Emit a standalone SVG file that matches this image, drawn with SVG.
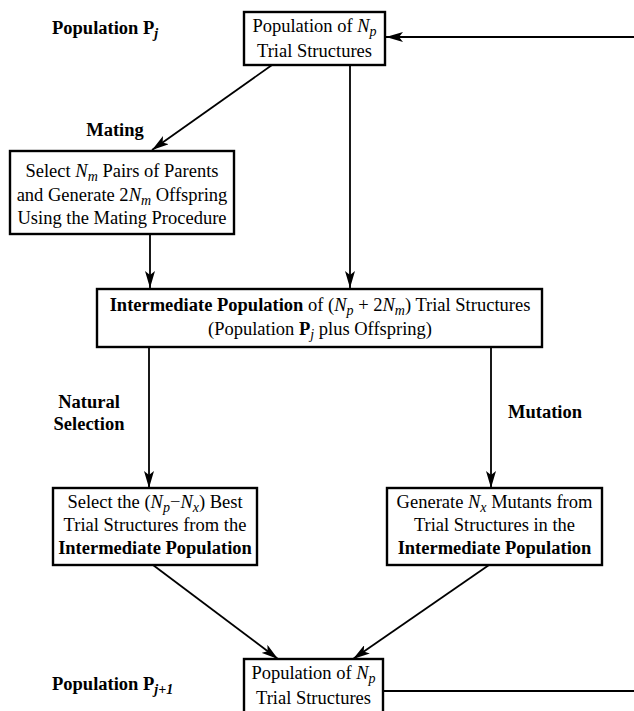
<svg xmlns="http://www.w3.org/2000/svg" width="634" height="711" viewBox="0 0 634 711">
<style>
text{font-family:"Liberation Serif","Times New Roman",serif;font-size:18.5px;fill:#000}
.c{text-anchor:middle}
.b{font-weight:bold}
.i{font-style:italic}
.box{fill:#fff;stroke:#000;stroke-width:2.4}
.ln{fill:none;stroke:#000;stroke-width:1.8}
.s{font-size:14px}
</style>
<defs>
<marker id="ah" viewBox="0 0 17 10" refX="17" refY="5" markerWidth="17" markerHeight="10" markerUnits="userSpaceOnUse" orient="auto">
<path d="M0,0 L17,5 L0,10 L4,5 z" fill="#000"/>
</marker>
</defs>
<rect width="634" height="711" fill="#fff"/>
<g id="connectors">
<line class="ln" x1="634" y1="37" x2="386" y2="37" marker-end="url(#ah)"/>
<line class="ln" x1="272" y1="65" x2="152" y2="150" marker-end="url(#ah)"/>
<line class="ln" x1="350" y1="65" x2="350" y2="288" marker-end="url(#ah)"/>
<line class="ln" x1="150" y1="234" x2="150" y2="288" marker-end="url(#ah)"/>
<line class="ln" x1="149" y1="347" x2="149" y2="488" marker-end="url(#ah)"/>
<line class="ln" x1="491" y1="347" x2="491" y2="488" marker-end="url(#ah)"/>
<line class="ln" x1="153" y1="565" x2="278" y2="659" marker-end="url(#ah)"/>
<line class="ln" x1="489" y1="565" x2="353" y2="659" marker-end="url(#ah)"/>
<line class="ln" x1="383" y1="691" x2="634" y2="691"/>
</g>
<g id="label-pj"><text class="b" x="52" y="34">Population P<tspan class="i s" dy="4">j</tspan></text></g>
<g id="label-mating"><text class="b c" x="115" y="136">Mating</text></g>
<g id="label-natural"><text class="b c" x="89" y="408">Natural</text><text class="b c" x="89" y="430">Selection</text></g>
<g id="label-mutation"><text class="b c" x="545" y="418">Mutation</text></g>
<g id="label-pj1"><text class="b" x="52" y="690">Population P<tspan class="i s" dy="4">j+1</tspan></text></g>
<g id="node-top">
<rect class="box" x="244" y="12" width="141" height="53"/>
<text class="c" x="314.5" y="32">Population of <tspan class="i">N</tspan><tspan class="i s" dy="4">p</tspan></text>
<text class="c" x="314.5" y="57">Trial Structures</text>
</g>
<g id="node-mating">
<rect class="box" x="10" y="151" width="224" height="83"/>
<text class="c" x="122" y="177">Select <tspan class="i">N</tspan><tspan class="i s" dy="4">m</tspan><tspan dy="-4"> Pairs of Parents</tspan></text>
<text class="c" x="122" y="201">and Generate 2<tspan class="i">N</tspan><tspan class="i s" dy="4">m</tspan><tspan dy="-4"> Offspring</tspan></text>
<text class="c" x="122" y="224">Using the Mating Procedure</text>
</g>
<g id="node-intermediate">
<rect class="box" x="97" y="289" width="445" height="58"/>
<text class="c" x="320" y="311"><tspan class="b">Intermediate Population</tspan> of (<tspan class="i">N</tspan><tspan class="i s" dy="4">p</tspan><tspan dy="-4"> + 2</tspan><tspan class="i">N</tspan><tspan class="i s" dy="4">m</tspan><tspan dy="-4">) Trial Structures</tspan></text>
<text class="c" x="320" y="335">(Population <tspan class="b">P</tspan><tspan class="i s" dy="4">j</tspan><tspan dy="-4"> plus Offspring)</tspan></text>
</g>
<g id="node-select">
<rect class="box" x="53" y="488" width="204" height="77"/>
<text class="c" x="155" y="508">Select the (<tspan class="i">N</tspan><tspan class="i s" dy="4">p</tspan><tspan dy="-4">−</tspan><tspan class="i">N</tspan><tspan class="i s" dy="4">x</tspan><tspan dy="-4">) Best</tspan></text>
<text class="c" x="155" y="531">Trial Structures from the</text>
<text class="c b" x="155" y="554">Intermediate Population</text>
</g>
<g id="node-mutants">
<rect class="box" x="387" y="488" width="215" height="77"/>
<text class="c" x="494.5" y="508">Generate <tspan class="i">N</tspan><tspan class="i s" dy="4">x</tspan><tspan dy="-4"> Mutants from</tspan></text>
<text class="c" x="494.5" y="531">Trial Structures in the</text>
<text class="c b" x="494.5" y="554">Intermediate Population</text>
</g>
<g id="node-bottom">
<rect class="box" x="244" y="659" width="139" height="70"/>
<text class="c" x="313.5" y="679">Population of <tspan class="i">N</tspan><tspan class="i s" dy="4">p</tspan></text>
<text class="c" x="313.5" y="704">Trial Structures</text>
</g>
</svg>
